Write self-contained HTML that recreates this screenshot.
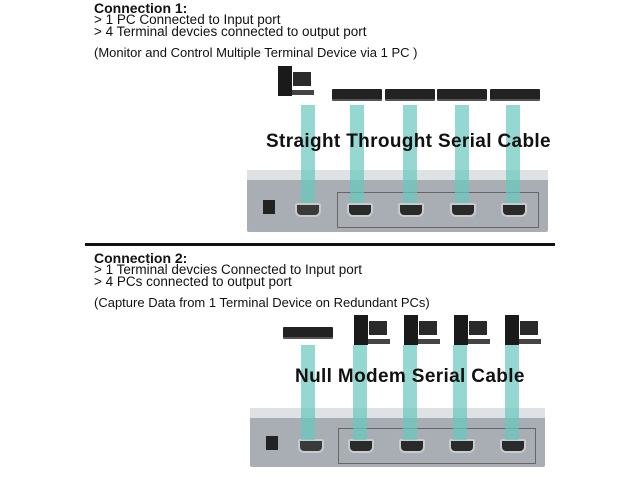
<!DOCTYPE html>
<html><head><meta charset="utf-8"><style>
body{margin:0;width:640px;height:480px;background:#fff;position:relative;overflow:hidden;font-family:"Liberation Sans",sans-serif;color:#111}
.t{position:absolute;left:94px;font-size:13.5px;line-height:12px;white-space:nowrap}
.b{font-weight:bold;font-size:14px}
.a{position:absolute}
.box{position:absolute;background:#a9aeb4;border-radius:2px}
.top{position:absolute;left:0;right:0;top:0;height:10px;background:#dfe2e5}
.cab{position:absolute;width:14px;background:rgba(102,200,190,.7);z-index:1}
.port{position:absolute;width:22px;height:10px;background:#2a2a2a;border:2px solid #c8cbce;border-radius:2px 2px 6px 6px}
.big{position:absolute;font-weight:bold;font-size:19px;letter-spacing:0.35px;color:#111;white-space:nowrap;z-index:2}
.term{position:absolute;height:10px;background:#222;border-radius:1px;border-bottom:2px solid #555}
.pc{position:absolute;width:38px;height:32px}
.pc .tw{position:absolute;left:0;top:0;width:14px;height:30px;background:#1a1a1a}
.pc .mn{position:absolute;left:15px;top:6px;width:18px;height:14px;background:#2a2a2a}
.pc .kb{position:absolute;left:14px;top:24px;width:22px;height:5px;background:#444}
</style></head><body>
<div class="t b" style="top:2px">Connection 1:</div>
<div class="t" style="top:14px">&gt; 1 PC Connected to Input port</div>
<div class="t" style="top:26px">&gt; 4 Terminal devcies connected to output port</div>
<div class="t" style="top:47px;font-size:13px">(Monitor and Control Multiple Terminal Device via 1 PC )</div>

<div class="pc" style="left:278px;top:66px"><div class="tw"></div><div class="mn"></div><div class="kb"></div></div>
<div class="term" style="left:332px;top:89px;width:50px"></div>
<div class="term" style="left:385px;top:89px;width:50px"></div>
<div class="term" style="left:437px;top:89px;width:50px"></div>
<div class="term" style="left:490px;top:89px;width:50px"></div>

<div class="box" style="left:247px;top:170px;width:301px;height:62px"><div class="top"></div>
<div class="a" style="left:16px;top:30px;width:12px;height:14px;background:#222"></div>
<div class="port" style="left:48px;top:33px;background:#3a3a3a"></div>
<div class="a" style="left:90px;top:22px;width:200px;height:34px;border:1px solid #666"></div>
<div class="port" style="left:100px;top:33px"></div>
<div class="port" style="left:151px;top:33px"></div>
<div class="port" style="left:203px;top:33px"></div>
<div class="port" style="left:254px;top:33px"></div>
</div>
<div class="cab" style="left:301px;top:105px;height:98px"></div>
<div class="cab" style="left:350px;top:105px;height:98px"></div>
<div class="cab" style="left:403px;top:105px;height:98px"></div>
<div class="cab" style="left:455px;top:105px;height:98px"></div>
<div class="cab" style="left:506px;top:105px;height:98px"></div>
<div class="big" style="left:266px;top:131px">Straight Throught Serial Cable</div>

<div class="a" style="left:85px;top:243px;width:470px;height:3px;background:#111"></div>

<div class="t b" style="top:252px">Connection 2:</div>
<div class="t" style="top:264px">&gt; 1 Terminal devcies Connected to Input port</div>
<div class="t" style="top:276px">&gt; 4 PCs connected to output port</div>
<div class="t" style="top:297px;font-size:13px">(Capture Data from 1 Terminal Device on Redundant PCs)</div>

<div class="term" style="left:283px;top:327px;width:50px"></div>
<div class="pc" style="left:354px;top:315px"><div class="tw"></div><div class="mn"></div><div class="kb"></div></div>
<div class="pc" style="left:404px;top:315px"><div class="tw"></div><div class="mn"></div><div class="kb"></div></div>
<div class="pc" style="left:454px;top:315px"><div class="tw"></div><div class="mn"></div><div class="kb"></div></div>
<div class="pc" style="left:505px;top:315px"><div class="tw"></div><div class="mn"></div><div class="kb"></div></div>

<div class="box" style="left:250px;top:408px;width:295px;height:59px"><div class="top"></div>
<div class="a" style="left:16px;top:28px;width:12px;height:14px;background:#222"></div>
<div class="port" style="left:48px;top:31px;background:#3a3a3a"></div>
<div class="a" style="left:88px;top:20px;width:196px;height:34px;border:1px solid #666"></div>
<div class="port" style="left:98px;top:31px"></div>
<div class="port" style="left:149px;top:31px"></div>
<div class="port" style="left:199px;top:31px"></div>
<div class="port" style="left:250px;top:31px"></div>
</div>
<div class="cab" style="left:301px;top:345px;height:95px"></div>
<div class="cab" style="left:353px;top:345px;height:95px"></div>
<div class="cab" style="left:403px;top:345px;height:95px"></div>
<div class="cab" style="left:453px;top:345px;height:95px"></div>
<div class="cab" style="left:505px;top:345px;height:95px"></div>
<div class="big" style="left:295px;top:366px">Null Modem Serial Cable</div>
</body></html>
